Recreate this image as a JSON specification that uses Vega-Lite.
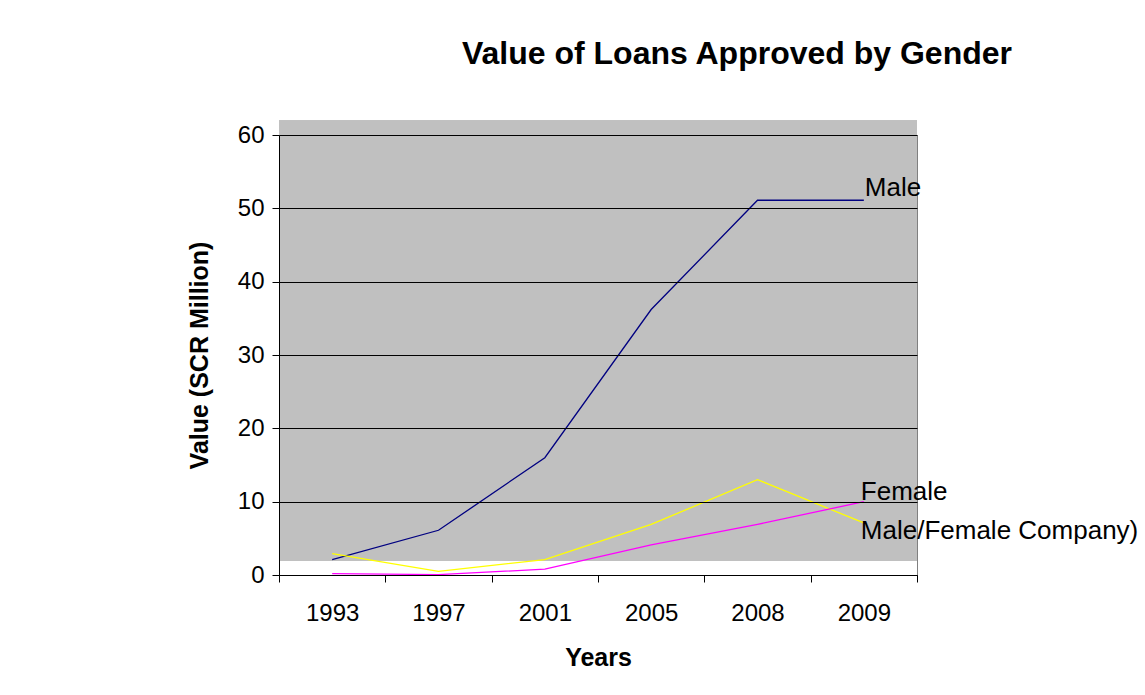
{
  "$schema": "https://vega.github.io/schema/vega-lite/v6.json",
  "autosize": "none",
  "padding": {"left": 279, "top": 135, "right": 228, "bottom": 120},
  "width": 638,
  "height": 440,
  "background": "white",
  "title": {
    "text": "Value of Loans Approved by Gender",
    "font": "Liberation Sans",
    "fontSize": 32,
    "fontWeight": "bold",
    "color": "#000000",
    "anchor": "end",
    "frame": "group",
    "dx": 95,
    "offset": 49
  },
  "config": {
    "view": {"stroke": "#808080", "strokeWidth": 1},
    "font": "Liberation Sans",
    "axis": {
      "labelFont": "Liberation Sans",
      "titleFont": "Liberation Sans",
      "labelColor": "#000000",
      "titleColor": "#000000",
      "domainColor": "#000000",
      "tickColor": "#000000"
    }
  },
  "data": {
    "values": [
      {"year": "1993", "series": "Male", "value": 2.1},
      {"year": "1997", "series": "Male", "value": 6.1},
      {"year": "2001", "series": "Male", "value": 16.0},
      {"year": "2005", "series": "Male", "value": 36.2},
      {"year": "2008", "series": "Male", "value": 51.1},
      {"year": "2009", "series": "Male", "value": 51.1},
      {"year": "1993", "series": "Male/Female Company)", "value": 2.9},
      {"year": "1997", "series": "Male/Female Company)", "value": 0.5},
      {"year": "2001", "series": "Male/Female Company)", "value": 2.1},
      {"year": "2005", "series": "Male/Female Company)", "value": 6.9},
      {"year": "2008", "series": "Male/Female Company)", "value": 13.0},
      {"year": "2009", "series": "Male/Female Company)", "value": 7.1},
      {"year": "1993", "series": "Female", "value": 0.2},
      {"year": "1997", "series": "Female", "value": 0.05},
      {"year": "2001", "series": "Female", "value": 0.8},
      {"year": "2005", "series": "Female", "value": 4.1},
      {"year": "2008", "series": "Female", "value": 6.9},
      {"year": "2009", "series": "Female", "value": 10.0}
    ]
  },
  "layer": [
    {
      "mark": {"type": "rect", "color": "#c0c0c0"},
      "encoding": {
        "y": {"datum": 1.9, "type": "quantitative"},
        "y2": {"datum": 62}
      }
    },
    {
      "mark": {"type": "line", "strokeWidth": 1.3, "clip": false},
      "encoding": {
        "x": {
          "field": "year",
          "type": "ordinal",
          "scale": {"paddingInner": 0, "paddingOuter": 0},
          "axis": {
            "title": "Years",
            "titleFontSize": 25,
            "titleFontWeight": "bold",
            "titlePadding": 20,
            "labelFontSize": 24,
            "labelAngle": 0,
            "labelPadding": 19,
            "tickBand": "extent",
            "tickSize": 7,
            "grid": false
          }
        },
        "y": {
          "field": "value",
          "type": "quantitative",
          "scale": {"domain": [0, 60], "nice": false},
          "axis": {
            "title": "Value (SCR Million)",
            "titleFontSize": 25,
            "titleFontWeight": "bold",
            "titlePadding": 25,
            "labelFontSize": 24,
            "labelPadding": 8,
            "tickSize": 7,
            "values": [0, 10, 20, 30, 40, 50, 60],
            "grid": true,
            "gridColor": "#000000",
            "gridWidth": 1,
            "zindex": 1
          }
        },
        "color": {
          "field": "series",
          "type": "nominal",
          "scale": {
            "domain": ["Male", "Female", "Male/Female Company)"],
            "range": ["#000080", "#ff00ff", "#ffff00"]
          },
          "legend": null
        }
      }
    },
    {
      "transform": [{"filter": "datum.year == '2009' && datum.series == 'Male'"}],
      "mark": {"type": "text", "align": "left", "baseline": "middle", "dx": 1, "dy": -12, "fontSize": 26, "font": "Liberation Sans", "color": "#000000"},
      "encoding": {
        "x": {"field": "year", "type": "ordinal"},
        "y": {"field": "value", "type": "quantitative"},
        "text": {"field": "series"}
      }
    },
    {
      "transform": [{"filter": "datum.year == '2009' && datum.series == 'Female'"}],
      "mark": {"type": "text", "align": "left", "baseline": "middle", "dx": -3, "dy": -10, "fontSize": 26, "font": "Liberation Sans", "color": "#000000"},
      "encoding": {
        "x": {"field": "year", "type": "ordinal"},
        "y": {"field": "value", "type": "quantitative"},
        "text": {"field": "series"}
      }
    },
    {
      "transform": [{"filter": "datum.year == '2009' && datum.series == 'Male/Female Company)'"}],
      "mark": {"type": "text", "align": "left", "baseline": "middle", "dx": -3, "dy": 8, "fontSize": 26, "font": "Liberation Sans", "color": "#000000"},
      "encoding": {
        "x": {"field": "year", "type": "ordinal"},
        "y": {"field": "value", "type": "quantitative"},
        "text": {"field": "series"}
      }
    }
  ]
}
